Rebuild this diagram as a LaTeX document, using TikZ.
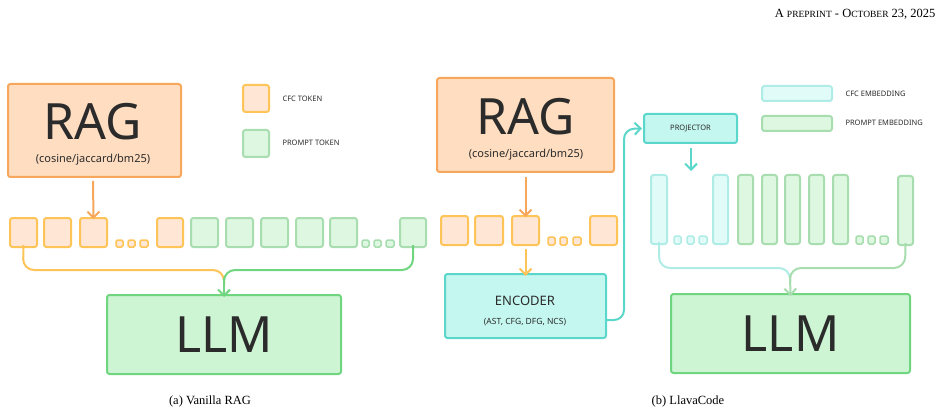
\documentclass[tikz,border=0pt]{standalone}
\usepackage{fontspec}
\setmainfont{Liberation Serif}
\newfontfamily\dsans{Noto Sans}
\usetikzlibrary{arrows.meta}
\definecolor{ragF}{HTML}{FFDDC0}\definecolor{ragD}{HTML}{F7A75C}
\definecolor{tokF}{HTML}{FFE6D5}\definecolor{tokD}{HTML}{FFC457}
\definecolor{grF}{HTML}{DDF7E0}\definecolor{grD}{HTML}{A8DDB0}
\definecolor{llmF}{HTML}{CDF5D3}\definecolor{llmD}{HTML}{6FD57F}
\definecolor{enF}{HTML}{C4F7F0}\definecolor{enD}{HTML}{5AD6CA}
\definecolor{ceF}{HTML}{E0FBF8}\definecolor{ceD}{HTML}{B0ECE6}
\definecolor{txt}{HTML}{2B2B2B}
\tikzset{
  bx/.style={draw, line width=2pt, rounded corners=2.5pt, inner sep=0pt, text=txt},
  tok/.style={bx, fill=tokF, draw=tokD},
  gtk/.style={bx, fill=grF, draw=grD},
  cfe/.style={bx, fill=ceF, draw=ceD},
  sm/.style={line width=1.5pt, rounded corners=1.5pt},
  arr/.style={line width=2pt, -{Straight Barb[length=6pt,width=12pt,line width=2pt]}},
  con/.style={line width=2pt, rounded corners=11pt},
}
\newcommand\mybx[7]{\node[#2, minimum width={(#5-#3)*1pt}, minimum height={(#6-#4)*1pt}] (#1) at ({(#3+#5)/2},{(#4+#6)/2}) {#7};}
\begin{document}
\begin{tikzpicture}[x=1pt,y=-1pt]
\useasboundingbox (0,0) rectangle (947,414);
\node[anchor=east, font=\fontsize{12.5}{12.5}\selectfont] (hdr) at (939,14) {A {\fontsize{9.5}{9.5}\selectfont PREPRINT} - O{\fontsize{9.5}{9.5}\selectfont CTOBER} 23, 2025};
% ---- left
\mybx{rag1}{bx,fill=ragF,draw=ragD}{8}{84}{181}{177}{}
\node[font=\dsans\fontsize{50}{50}\selectfont, text=txt] (ragt1) at (93,122) {RAG};
\node[font=\dsans\fontsize{11}{11}\selectfont, text=txt] (rags1) at (93,160) {(cosine/jaccard/bm25)};
\mybx{a1}{tok}{10}{218}{37}{247}{}
\mybx{a2}{tok}{44}{218}{71}{247}{}
\mybx{a3}{tok}{80}{218}{107}{247}{}
\mybx{d1}{tok,sm}{116}{240}{123}{247}{}
\mybx{d2}{tok,sm}{128}{240}{135}{247}{}
\mybx{d3}{tok,sm}{140}{240}{148}{247}{}
\mybx{a4}{tok}{157}{218}{183}{247}{}
\mybx{g1}{gtk}{191}{218}{218}{247}{}
\mybx{g2}{gtk}{226}{218}{253}{247}{}
\mybx{g3}{gtk}{261}{218}{288}{247}{}
\mybx{g4}{gtk}{296}{218}{323}{247}{}
\mybx{g5}{gtk}{330}{218}{357}{247}{}
\mybx{e1}{gtk,sm}{362}{240}{369}{247}{}
\mybx{e2}{gtk,sm}{374}{240}{381}{247}{}
\mybx{e3}{gtk,sm}{386}{240}{394}{247}{}
\mybx{g6}{gtk}{400}{218}{426}{247}{}
\draw[arr, draw=ragD] (93,181) -- ([yshift=-2pt]a3.north);
\mybx{llm1}{bx,fill=llmF,draw=llmD}{107}{295}{341}{374}{\dsans\fontsize{50}{50}\selectfont LLM}
\draw[con, draw=tokD] ([yshift=3pt]a1.south) -- (23,270) -- (224,270) -- (224,285);
\draw[con, draw=llmD] ([yshift=3pt]g6.south) -- (413,270) -- (224,270) -- (224,285);
\draw[arr, draw=llmD] (224,278) -- ([yshift=-3pt]llm1.north);
\mybx{lg1}{tok}{243}{85}{269}{112}{}
\mybx{lg2}{gtk}{243}{130}{269}{157}{}
\node[anchor=west, font=\dsans\fontsize{7.5}{7.5}\selectfont, text=txt] (lt1) at (279,99) {CFC TOKEN};
\node[anchor=west, font=\dsans\fontsize{7.5}{7.5}\selectfont, text=txt] (lt2) at (279,143) {PROMPT TOKEN};
\node[font=\fontsize{12.5}{12.5}\selectfont] (cap1) at (210,401) {(a) Vanilla RAG};
% ---- right
\mybx{rag2}{bx,fill=ragF,draw=ragD}{437}{78}{614}{172}{}
\node[font=\dsans\fontsize{50}{50}\selectfont, text=txt] (ragt2) at (526,117) {RAG};
\node[font=\dsans\fontsize{11}{11}\selectfont, text=txt] (rags2) at (526,155) {(cosine/jaccard/bm25)};
\mybx{b1}{tok}{441}{216}{468}{245}{}
\mybx{b2}{tok}{475}{216}{503}{245}{}
\mybx{b3}{tok}{512}{216}{539}{245}{}
\mybx{f1}{tok,sm}{548}{237}{555}{245}{}
\mybx{f2}{tok,sm}{560}{237}{567}{245}{}
\mybx{f3}{tok,sm}{573}{237}{581}{245}{}
\mybx{b4}{tok}{590}{216}{617}{245}{}
\draw[arr, draw=ragD] ([yshift=-4pt]rag2.south) -- ([yshift=-2pt]b3.north);
\mybx{enc}{bx,fill=enF,draw=enD}{445}{274}{606}{338}{}
\node[font=\dsans\fontsize{13}{13}\selectfont, text=txt] (enct) at (525,301) {ENCODER};
\node[font=\dsans\fontsize{8.5}{8.5}\selectfont, text=txt] (encs) at (525,322) {(AST, CFG, DFG, NCS)};
\draw[arr, draw=tokD] ([yshift=-3pt]b3.south) -- ([yshift=-3pt]enc.north);
\mybx{proj}{bx,fill=enF,draw=enD}{644}{114}{737}{143}{\dsans\bfseries\fontsize{7.5}{7.5}\selectfont PROJECTOR}
\draw[arr, draw=enD, rounded corners=10pt] (607,320) -| (624,129) -- ([xshift=-1pt]proj.west);
\mybx{c1}{cfe}{651}{175}{667}{244}{}
\mybx{h1}{cfe,sm}{674}{236}{681}{244}{}
\mybx{h2}{cfe,sm}{687}{236}{694}{244}{}
\mybx{h3}{cfe,sm}{699}{236}{707}{244}{}
\mybx{c2}{cfe}{713}{175}{728}{244}{}
\mybx{p1}{gtk}{738}{175}{753}{244}{}
\mybx{p2}{gtk}{762}{175}{777}{244}{}
\mybx{p3}{gtk}{785}{175}{800}{244}{}
\mybx{p4}{gtk}{809}{175}{824}{244}{}
\mybx{p5}{gtk}{833}{175}{848}{244}{}
\mybx{k1}{gtk,sm}{856}{236}{863}{244}{}
\mybx{k2}{gtk,sm}{868}{236}{875}{244}{}
\mybx{k3}{gtk,sm}{880}{236}{888}{244}{}
\mybx{p6}{gtk}{898}{176}{913}{245}{}
\draw[arr, draw=enD] (691,148) -- (691,171);
\mybx{llm2}{bx,fill=llmF,draw=llmD}{671}{294}{910}{373}{\dsans\fontsize{50}{50}\selectfont LLM}
\draw[con, draw=ceD] ([yshift=3pt]c1.south) -- (659,268) -- (790,268) -- (790,283);
\draw[con, draw=grD] ([yshift=3pt]p6.south) -- (905,268) -- (790,268) -- (790,283);
\draw[arr, draw=grD] (790,276) -- ([yshift=-3pt]llm2.north);
\mybx{lg3}{cfe}{762}{86}{832}{101}{}
\mybx{lg4}{gtk}{762}{116}{832}{131}{}
\node[anchor=west, font=\dsans\fontsize{7.5}{7.5}\selectfont, text=txt] (lt3) at (842,94) {CFC EMBEDDING};
\node[anchor=west, font=\dsans\fontsize{7.5}{7.5}\selectfont, text=txt] (lt4) at (842,123) {PROMPT EMBEDDING};
\node[font=\fontsize{12.5}{12.5}\selectfont] (cap2) at (688,401) {(b) LlavaCode};
\end{tikzpicture}
\end{document}
